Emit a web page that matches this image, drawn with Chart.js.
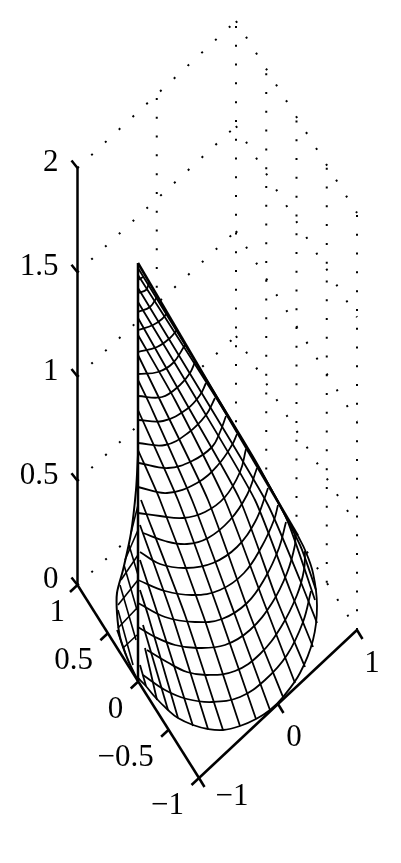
<!DOCTYPE html>
<html><head><meta charset="utf-8">
<style>html,body{margin:0;padding:0;background:#fff}canvas{display:block}</style>
<script src="https://cdn.jsdelivr.net/npm/chart.js@4"></script>
</head><body><canvas id="c" width="401" height="863"></canvas>
<script>
// Tick values of the three box axes
const xTicks = [-1, 0, 1];
const yTicks = [-1, -0.5, 0, 0.5, 1];
const zTicks = [0, 0.5, 1, 1.5, 2];
const xTickLabels = ['\u22121', '0', '1'];
const yTickLabels = ['\u22121', '\u22120.5', '0', '0.5', '1'];
const zTickLabels = ['0', '0.5', '1', '1.5', '2'];
// Dotted grid positions on the back walls
const wallX = [0];
const wallY = [1, 0.5, 0, -0.5, -1];

// Surface curves, as [across, up] in view units (pairs)
const ring01 = [[0,4.01],[.05,4.04]];
const ring02 = [[0,3.88],[.08,3.91],[.11,3.98]];
const ring03 = [[0,3.69],[.12,3.74],[.19,3.84]];
const ring04 = [[0,3.51],[.15,3.56],[.24,3.62],[.29,3.68]];
const ring05 = [[0,3.29],[.19,3.34],[.32,3.43],[.39,3.51]];
const ring06 = [[0,3.07],[.20,3.09],[.35,3.18],[.47,3.36]];
const ring07 = [[0,2.85],[.24,2.84],[.42,2.96],[.52,3.08],[.57,3.19]];
const ring08 = [[0,2.61],[.25,2.60],[.49,2.72],[.62,2.86],[.68,2.98]];
const ring09 = [[0,2.38],[.27,2.36],[.50,2.48],[.68,2.66],[.77,2.83]];
const ring10 = [[.01,2.18],[.30,2.13],[.54,2.20],[.74,2.34],[.82,2.49],[.88,2.65]];
const ring11 = [[0,1.94],[.29,1.88],[.59,1.98],[.80,2.16],[.94,2.36],[.99,2.47]];
const ring12 = [[0,1.68],[.22,1.65],[.45,1.63],[.67,1.69],[.87,1.84],[1.02,2.09],[1.08,2.32]];
const ring13 = [[.05,1.48],[.27,1.40],[.49,1.37],[.70,1.43],[.92,1.61],[1.09,1.86],[1.19,2.13]];
const ring14 = [[.02,1.29],[.22,1.17],[.48,1.13],[.75,1.18],[.99,1.34],[1.17,1.59],[1.27,1.84],[1.30,1.93]];
const ring15 = [[0,1.01],[.27,.90],[.55,.86],[.82,.91],[1.06,1.08],[1.24,1.35],[1.36,1.61],[1.40,1.76]];
const ring16 = [[0,.78],[.27,.64],[.57,.59],[.84,.62],[1.09,.78],[1.27,1.03],[1.41,1.33],[1.48,1.59]];
const ring17 = [[0,.54],[.17,.44],[.37,.36],[.59,.33],[.87,.36],[1.12,.51],[1.34,.78],[1.49,1.08],[1.57,1.36],[1.57,1.46]];
const ring18 = [[.09,.31],[.29,.19],[.49,.09],[.69,.06],[.97,.10],[1.22,.27],[1.43,.54],[1.59,.86],[1.66,1.11],[1.67,1.30]];
const ring19 = [[.05,.06],[.27,-.09],[.49,-.18],[.74,-.21],[1.02,-.16],[1.27,.01],[1.49,.26],[1.65,.59],[1.73,.90]];
const baseEdge = [[1.60,1.45],[1.67,1.31],[1.75,1.08],[1.79,.75],[1.75,.41],[1.62,.08],[1.45,-.16],[1.32,-.29],[1.18,-.38],[1.02,-.45],[.85,-.49],[.70,-.48],[.55,-.44],[.40,-.37],[.30,-.29],[.17,-.16],[.07,-.04],[0,.03]];
const leftEdge = [[0,0],[-.10,.21],[-.18,.44],[-.21,.68],[-.21,.88],[-.15,1.11],[-.07,1.48],[-.02,1.91],[0,2.26]];
const spine = [[0,4.18],[0,0]];
const rightEdge = [[0,4.18],[1.60,1.45]];
const line01 = [[0,4.13],[1.17,2.21],[1.62,1.36],[1.78,.91]];
const line02 = [[0,4.06],[.92,2.61],[1.47,1.66],[1.77,.81]];
const line03 = [[0,3.93],[.77,2.66],[1.30,1.76],[1.62,1.01],[1.79,.58]];
const line04 = [[0,3.79],[.62,2.76],[1.17,1.81],[1.52,.91],[1.75,.34]];
const line05 = [[0,3.63],[.52,2.71],[1.02,1.81],[1.39,.81],[1.67,.14]];
const line06 = [[0,3.46],[.37,2.81],[.87,1.81],[1.25,.81],[1.57,-.02]];
const line07 = [[0,3.26],[.22,2.81],[.70,1.81],[1.12,.66],[1.45,-.16]];
const line08 = [[0,3.01],[.12,2.76],[.54,1.81],[.97,.66],[1.32,-.29]];
const line09 = [[0,2.71],[.40,1.81],[.82,.66],[1.18,-.38]];
const line10 = [[0,2.31],[.22,1.81],[.65,.66],[1.02,-.45]];
const line11 = [[.03,1.81],[.47,.66],[.85,-.49]];
const line12 = [[.02,1.56],[.34,.66],[.70,-.48]];
const line13 = [[.02,1.21],[.20,.66],[.55,-.45]];
const line14 = [[.02,.91],[.10,.66],[.40,-.37]];
const line15 = [[.05,.56],[.30,-.29]];
const line16 = [[.07,.33],[.19,-.19]];
const line17 = [[.02,.16],[.08,-.05]];
const lobe01 = [[0,1.76],[-.07,1.48]];
const lobe02 = [[0,1.51],[-.13,1.21]];
const lobe03 = [[0,1.26],[-.17,1.01]];
const lobe04 = [[0,1.01],[-.20,.76]];
const lobe05 = [[0,.74],[-.20,.53]];
const lobe06 = [[-.01,.46],[-.15,.33]];
const lobe07 = [[-.09,1.36],[0,1.06]];
const lobe08 = [[-.14,1.16],[-.01,.71]];
const lobe09 = [[-.18,.96],[-.02,.41]];
const lobe10 = [[-.20,.71],[-.05,.16]];
const lobe11 = [[-.21,.51],[-.12,.26]];
// Outline of the surface, upper and lower sides, for hiding the grid behind it
const outlineTop = [[-.21,.78],[-.15,1.11],[-.07,1.48],[-.02,1.91],[0,2.26],[0,4.18],[1.60,1.45],[1.67,1.31],[1.75,1.08],[1.79,.75]];
const outlineBottom = [[-.21,.78],[-.21,.68],[-.18,.44],[-.10,.21],[0,0],[.17,-.16],[.30,-.29],[.55,-.44],[.85,-.49],[1.18,-.38],[1.45,-.16],[1.62,.08],[1.75,.41],[1.79,.75]];

const rings = [ring01,ring02,ring03,ring04,ring05,ring06,ring07,ring08,ring09,ring10,ring11,ring12,ring13,ring14,ring15,ring16,ring17,ring18,ring19,baseEdge];
const lines = [line01,line02,line03,line04,line05,line06,line07,line08,line09,line10,line11,line12,line13,line14,line15,line16,line17];
const lobes = [lobe01,lobe02,lobe03,lobe04,lobe05,lobe06,lobe07,lobe08,lobe09,lobe10,lobe11];
const edges = [leftEdge,spine,rightEdge];

// Box geometry in view units
function P(x,y,z){
  const s=(x+1)/2,t=(y+1)/2;
  const u=(1-s)*(1-t)*.61+s*(1-t)*2.19+(1-s)*t*(-.605)+s*t*.98;
  const v=(1-s)*(1-t)*(-.97)+s*(1-t)*.51+(1-s)*t*.96+s*t*2.40;
  return {x:u,y:v+z*(2.085+.015*s*t)};
}
const pts=a=>a.map(p=>({x:p[0],y:p[1]}));
const ds=[];
function add(data,o){ds.push(Object.assign({data,showLine:true,pointRadius:0,pointHoverRadius:0,borderColor:'#000',borderWidth:1.8,fill:false,tension:0},o));}
const dot={borderWidth:2,borderDash:[2,16.77],order:6};
zTicks.forEach(z=>{
  add([P(-1,1,z),P(1,1,z)],dot);
  add([P(1,1,z),P(1,-1,z)],dot);
});
wallX.forEach(x=>add([P(x,1,0),P(x,1,2)],dot));
wallY.forEach(y=>add([P(1,y,0),P(1,y,2)],dot));
add(pts(outlineTop),{order:5,borderWidth:0,borderColor:'rgba(0,0,0,0)',backgroundColor:'#fff',fill:'+1'});
add(pts(outlineBottom),{order:5,borderWidth:0,borderColor:'rgba(0,0,0,0)'});
rings.forEach(r=>add(pts(r),{order:3,tension:.4}));
lines.forEach(r=>add(pts(r),{order:3,tension:.2}));
lobes.forEach(r=>add(pts(r),{order:3,borderWidth:1.6}));
edges.forEach(r=>add(pts(r),{order:2,borderWidth:r===leftEdge?2:2.5,tension:r===leftEdge?.3:0}));
const ax={order:1,borderWidth:2.5};
add([P(-1,1,0),P(-1,1,2)],ax);
add([P(-1,-1,0),P(1,-1,0)],ax);
add([P(-1,-1,0),P(-1,1,0)],ax);
const labels=[];
zTicks.forEach((z,i)=>{const p=P(-1,1,z);add([p,{x:p.x-.06,y:p.y+.075}],ax);
  labels.push({t:zTickLabels[i],u:p.x-.19,v:p.y+.05,a:'right'});});
yTicks.forEach((y,i)=>{const p=P(-1,y,0);add([p,{x:p.x-.075,y:p.y-.07}],ax);
  labels.push({t:yTickLabels[i],u:p.x-(y===1?.125:.15),v:p.y-.28,a:'right'});});
const xOff=[[.33,-.19],[.16,-.34],[.15,-.335]];
xTicks.forEach((x,i)=>{const p=P(x,-1,0);add([p,{x:p.x+.055,y:p.y-.09}],ax);
  labels.push({t:xTickLabels[i],u:p.x+xOff[i][0],v:p.y+xOff[i][1],a:'center'});});

const tickText={id:'tickText',afterDatasetsDraw(ch){
  const c=ch.ctx;c.save();c.fillStyle='#000';c.font='31px "Liberation Serif"';c.textBaseline='middle';
  labels.forEach(l=>{c.textAlign=l.a;c.fillText(l.t,ch.scales.x.getPixelForValue(l.u),ch.scales.y.getPixelForValue(l.v));});
  c.restore();}};

new Chart(document.getElementById('c'),{
  type:'scatter',
  data:{datasets:ds},
  plugins:[tickText],
  options:{responsive:false,animation:false,events:[],
    layout:{padding:0},
    plugins:{legend:{display:false},tooltip:{enabled:false},title:{display:false}},
    scales:{x:{type:'linear',display:false,min:-1.38,max:2.63},y:{type:'linear',display:false,min:-1.82,max:6.81}}
  }
});
</script></body></html>
